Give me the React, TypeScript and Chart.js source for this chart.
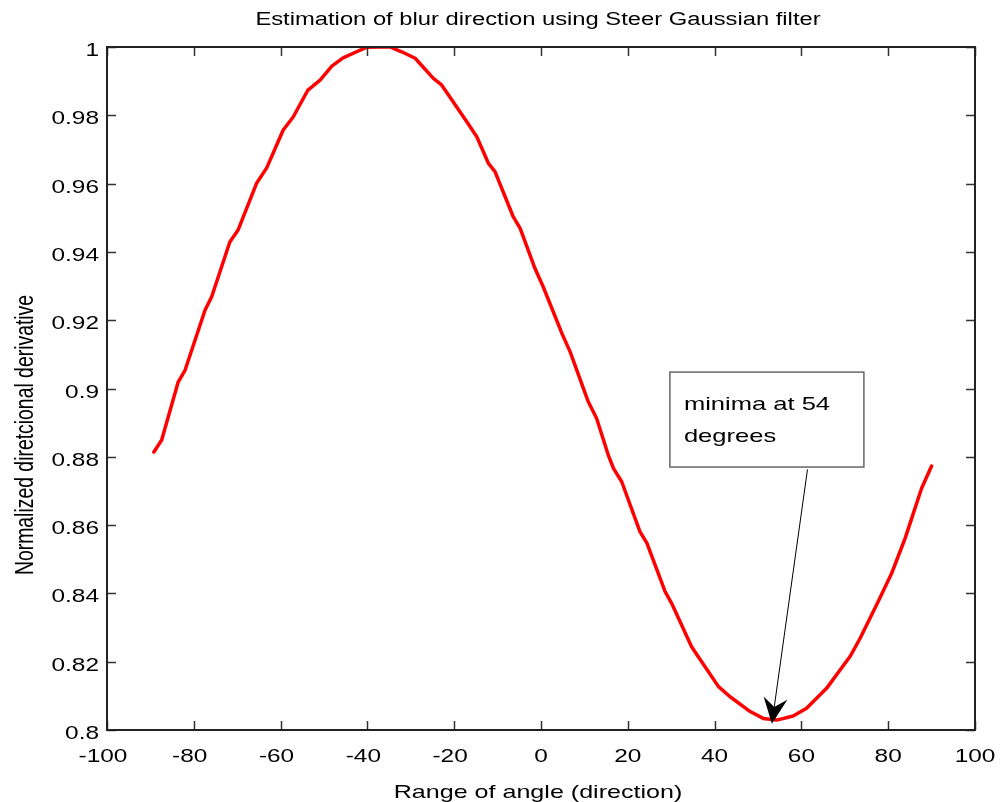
import React, { useEffect, useRef } from "react";
import { Chart, registerables } from "chart.js";

Chart.register(...registerables);

// ---- data ----
const angles = [
  -89.2, -87.4, -83.6, -82.0, -77.4, -75.9, -71.7, -69.8, -65.5, -63.2,
  -59.4, -57.1, -53.7, -50.9, -48.2, -45.6, -42.5, -40.2, -37.0, -34.8,
  -32.1, -29.0, -24.8, -22.9, -17.1, -14.8, -12.1, -10.6, -6.4, -4.8,
  -1.4, 0.5, 4.8, 6.7, 10.9, 12.8, 15.5, 16.7, 18.6, 22.8,
  24.4, 28.6, 30.1, 34.7, 36.2, 40.9, 43.5, 48.2, 51.2, 54.3,
  58.1, 61.2, 65.8, 71.2, 73.5, 77.7, 80.8, 83.9, 87.7, 90.0,
];
const values = [
  0.8814, 0.8849, 0.9019, 0.9054, 0.923, 0.9268, 0.9429, 0.9464, 0.9602, 0.9646,
  0.9757, 0.9795, 0.9874, 0.9903, 0.9944, 0.9968, 0.9986, 0.9999, 1.0, 1.0,
  0.9986, 0.9967, 0.9908, 0.9889, 0.9781, 0.9737, 0.9659, 0.9635, 0.9503, 0.9469,
  0.9352, 0.9298, 0.9162, 0.9108, 0.8961, 0.8913, 0.8805, 0.8766, 0.8727, 0.8581,
  0.8547, 0.8405, 0.8371, 0.8244, 0.8215, 0.8127, 0.8098, 0.8054, 0.8034, 0.8029,
  0.8041, 0.8064, 0.8122, 0.8215, 0.8268, 0.8376, 0.8459, 0.8561, 0.8708, 0.8773,
];

const xTicks = [-100, -80, -60, -40, -20, 0, 20, 40, 60, 80, 100];
const xTickLabels = ["-100", "-80", "-60", "-40", "-20", "0", "20", "40", "60", "80", "100"];
const yTicks = [0.8, 0.82, 0.84, 0.86, 0.88, 0.9, 0.92, 0.94, 0.96, 0.98, 1.0];
const yTickLabels = ["0.8", "0.82", "0.84", "0.86", "0.88", "0.9", "0.92", "0.94", "0.96", "0.98", "1"];

const titleText = "Estimation of blur direction using Steer Gaussian filter";
const xTitleText = "Range of angle (direction)";
const yTitleText = "Normalized diretcional derivative";

const annotationLines = ["minima at 54", "degrees"];
// annotation box corners and arrow (in data units)
const annBoxX = [29.7, 74.4];
const annBoxY = [0.9048, 0.877];
const arrowTail = [61.4, 0.8763];
const arrowTip = [53.2, 0.8018];

// ---- style ----
const FONT = '"Liberation Sans", Arial, Helvetica, sans-serif';
const SX = 1.32;

function stretchText(
  ctx: CanvasRenderingContext2D,
  text: string,
  x: number,
  y: number,
  align: CanvasTextAlign,
  baseline: CanvasTextBaseline,
  size: number,
  sx = SX
) {
  ctx.save();
  ctx.translate(x, y);
  ctx.scale(sx, 1);
  ctx.font = `${size}px ${FONT}`;
  ctx.textAlign = align;
  ctx.textBaseline = baseline;
  ctx.fillStyle = "#000";
  ctx.fillText(text, 0, 0);
  ctx.restore();
}

const matlabPlugin = {
  id: "matlabDecor",
  afterDatasetsDraw(chart: any) {
    const ctx: CanvasRenderingContext2D = chart.ctx;
    const xs = chart.scales.x;
    const ys = chart.scales.y;
    const { left, right, top, bottom } = chart.chartArea;
    const TL = 9;

    ctx.save();
    // ticks (inward, all sides)
    ctx.strokeStyle = "#333";
    ctx.lineWidth = 1.5;
    xTicks.forEach((v) => {
      const px = Math.round(xs.getPixelForValue(v)) + 0.5;
      ctx.beginPath();
      ctx.moveTo(px, bottom);
      ctx.lineTo(px, bottom - TL);
      ctx.moveTo(px, top);
      ctx.lineTo(px, top + TL);
      ctx.stroke();
    });
    yTicks.forEach((v) => {
      const py = Math.round(ys.getPixelForValue(v)) + 0.5;
      ctx.beginPath();
      ctx.moveTo(left, py);
      ctx.lineTo(left + TL, py);
      ctx.moveTo(right, py);
      ctx.lineTo(right - TL, py);
      ctx.stroke();
    });

    // box
    ctx.strokeStyle = "#222";
    ctx.lineWidth = 2;
    ctx.strokeRect(left, top, right - left, bottom - top);

    // tick labels
    const TS = 18.5;
    ctx.font = `${TS}px ${FONT}`;
    const minusW = ctx.measureText("-").width * SX;
    xTicks.forEach((v, i) => {
      const lab = xTickLabels[i];
      let px = xs.getPixelForValue(v);
      if (lab.startsWith("-")) px -= minusW / 2;
      stretchText(ctx, lab, px, bottom + 27, "center", "middle", TS);
    });
    yTicks.forEach((v, i) => {
      const py = ys.getPixelForValue(v);
      stretchText(ctx, yTickLabels[i], left - 8, py + 4, "right", "middle", TS);
    });

    // titles
    const cx = (left + right) / 2 - 3;
    stretchText(ctx, titleText, cx, 25, "center", "alphabetic", 18);
    stretchText(ctx, xTitleText, cx, 798, "center", "alphabetic", 19);

    // y title, rotated
    ctx.save();
    ctx.translate(33, 435);
    ctx.scale(SX, 1);
    ctx.rotate(-Math.PI / 2);
    ctx.font = `19.4px ${FONT}`;
    ctx.textAlign = "center";
    ctx.textBaseline = "alphabetic";
    ctx.fillStyle = "#000";
    ctx.fillText(yTitleText, 0, 0);
    ctx.restore();

    // annotation box
    const bx0 = xs.getPixelForValue(annBoxX[0]);
    const bx1 = xs.getPixelForValue(annBoxX[1]);
    const by0 = ys.getPixelForValue(annBoxY[0]);
    const by1 = ys.getPixelForValue(annBoxY[1]);
    ctx.fillStyle = "#fff";
    ctx.fillRect(bx0, by0, bx1 - bx0, by1 - by0);
    ctx.strokeStyle = "#666";
    ctx.lineWidth = 1.5;
    ctx.strokeRect(bx0, by0, bx1 - bx0, by1 - by0);
    stretchText(ctx, annotationLines[0], bx0 + 14, by0 + 38, "left", "alphabetic", 18.5, 1.38);
    stretchText(ctx, annotationLines[1], bx0 + 14, by0 + 70, "left", "alphabetic", 18.5, 1.38);

    // arrow
    const tx = xs.getPixelForValue(arrowTail[0]);
    const ty = ys.getPixelForValue(arrowTail[1]);
    const hx = xs.getPixelForValue(arrowTip[0]);
    const hy = ys.getPixelForValue(arrowTip[1]);
    const dx = hx - tx;
    const dy = hy - ty;
    const len = Math.hypot(dx, dy);
    const ux = dx / len;
    const uy = dy / len;
    const nx = -uy;
    const ny = ux;
    const L = 26;
    const W = 12;
    const notch = 17;
    ctx.strokeStyle = "#000";
    ctx.lineWidth = 1;
    ctx.beginPath();
    ctx.moveTo(tx, ty);
    ctx.lineTo(hx - ux * notch, hy - uy * notch);
    ctx.stroke();
    ctx.fillStyle = "#000";
    ctx.beginPath();
    ctx.moveTo(hx, hy);
    ctx.lineTo(hx - ux * L + nx * W, hy - uy * L + ny * W);
    ctx.lineTo(hx - ux * notch, hy - uy * notch);
    ctx.lineTo(hx - ux * L - nx * W, hy - uy * L - ny * W);
    ctx.closePath();
    ctx.fill();

    ctx.restore();
  },
};

export default function App() {
  const canvasRef = useRef<HTMLCanvasElement | null>(null);

  useEffect(() => {
    if (!canvasRef.current) return;
    const chart = new Chart(canvasRef.current, {
      type: "line",
      data: {
        datasets: [
          {
            data: angles.map((a, i) => ({ x: a, y: values[i] })),
            borderColor: "#ff0000",
            borderWidth: 3.5,
            borderJoinStyle: "round",
            borderCapStyle: "round",
            pointRadius: 0,
            tension: 0,
            fill: false,
          },
        ],
      },
      options: {
        animation: false,
        responsive: true,
        maintainAspectRatio: false,
        layout: { padding: { left: 107, right: 26, top: 47, bottom: 72 } },
        plugins: {
          legend: { display: false },
          tooltip: { enabled: false },
          title: { display: false },
        },
        scales: {
          x: { type: "linear", min: -100, max: 100, display: false },
          y: { type: "linear", min: 0.8, max: 1.0, display: false },
        },
      },
      plugins: [matlabPlugin],
    });
    return () => chart.destroy();
  }, []);

  return (
    <div
      style={{
        position: "fixed",
        left: 0,
        top: 0,
        width: 1001,
        height: 802,
        background: "#fff",
      }}
    >
      <canvas ref={canvasRef} />
    </div>
  );
}
